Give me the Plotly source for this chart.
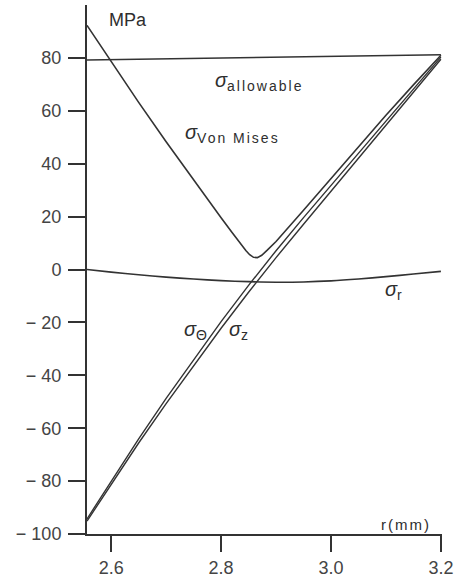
import plotly.graph_objects as go

# Radial position (mm) for the stress components
r_mm = [2.556, 2.6, 2.65, 2.7, 2.75, 2.8, 2.85, 2.9, 2.95, 3.0, 3.05, 3.1, 3.15, 3.2]
sigma_theta = [-94.3, -80.0, -64.0, -48.7, -34.0, -19.7, -6.0, 7.1, 19.6, 31.9, 44.0, 56.1, 68.2, 80.3]
sigma_z = [-95.1, -81.2, -65.6, -50.7, -36.3, -22.2, -8.6, 4.5, 17.1, 29.6, 42.0, 54.4, 66.9, 79.5]
sigma_r = [0.0, -1.0, -2.0, -2.9, -3.6, -4.2, -4.6, -4.8, -4.7, -4.3, -3.6, -2.7, -1.7, -0.7]

# Von Mises equivalent stress (denser sampling around the minimum)
r_vm = [2.556, 2.6, 2.65, 2.7, 2.75, 2.8, 2.82, 2.835, 2.845, 2.852, 2.859, 2.866, 2.874,
        2.884, 2.9, 2.95, 3.0, 3.05, 3.1, 3.15, 3.2]
sigma_vm = [92.3, 78.5, 63.2, 48.3, 33.8, 19.6, 14.0, 9.8, 7.2, 5.6, 4.6, 4.5, 5.4,
            7.3, 10.6, 22.4, 34.5, 46.5, 58.3, 69.8, 81.0]

# Allowable stress line
r_allow = [2.556, 3.2]
sigma_allow = [79.2, 81.2]

x_ticks = [2.6, 2.8, 3.0, 3.2]
x_tick_text = ["2.6", "2.8", "3.0", "3.2"]
y_ticks = [-100, -80, -60, -40, -20, 0, 20, 40, 60, 80]
y_tick_text = ["\u2212 100", "\u2212 80", "\u2212 60", "\u2212 40", "\u2212 20",
               "0", "20", "40", "60", "80"]

INK = "#333333"
TXT = "#2e2e2e"
FONT = "Liberation Sans, Arial, sans-serif"

fig = go.Figure()

fig.add_trace(go.Scatter(x=r_allow, y=sigma_allow, mode="lines",
                         line=dict(color=INK, width=1.6)))
fig.add_trace(go.Scatter(x=r_vm, y=sigma_vm, mode="lines",
                         line=dict(color=INK, width=1.6)))
fig.add_trace(go.Scatter(x=r_mm, y=sigma_r, mode="lines",
                         line=dict(color=INK, width=1.6, shape="spline", smoothing=0.8)))
fig.add_trace(go.Scatter(x=r_mm, y=sigma_theta, mode="lines",
                         line=dict(color=INK, width=1.4)))
fig.add_trace(go.Scatter(x=r_mm, y=sigma_z, mode="lines",
                         line=dict(color=INK, width=1.4)))


def label(x, y, text, size=21, xanchor="left", yanchor="middle"):
    fig.add_annotation(x=x, y=y, xref="x", yref="y", text=text, showarrow=False,
                       xanchor=xanchor, yanchor=yanchor,
                       font=dict(family=FONT, size=size, color=TXT))


sp = '<span style="letter-spacing:2px">{}</span>'
label(2.786, 71.0, "<i>σ</i><sub>" + sp.format("allowable") + "</sub>", size=20)
label(2.730, 51.5, "<i>σ</i><sub>" + sp.format("Von Mises") + "</sub>", size=20)
label(3.094, -7.8, "<i>σ</i><sub>r</sub>", size=20)
label(2.729, -22.9, "<i>σ</i><sub>Θ</sub>", size=20)
label(2.810, -22.9, "<i>σ</i><sub>z</sub>", size=20)
label(2.5925, 94.5, "MPa", size=18)
label(3.1865, -96.5, sp.format("r(mm)"), size=15, xanchor="right", yanchor="middle")

axis_common = dict(
    showline=True, linecolor=INK, linewidth=2,
    ticks="outside", tickcolor=INK, tickwidth=2,
    showgrid=False, zeroline=False, automargin=False,
    tickfont=dict(family=FONT, size=18, color="#444444"),
)

fig.update_xaxes(range=[2.556, 3.202], tickmode="array", tickvals=x_ticks,
                 ticktext=x_tick_text, ticklen=16, ticklabelstandoff=0, **axis_common)
fig.update_yaxes(range=[-100, 100], tickmode="array", tickvals=y_ticks,
                 ticktext=y_tick_text, ticklen=17, ticklabelstandoff=3, **axis_common)

fig.update_layout(
    width=465, height=579,
    margin=dict(l=87, r=23, t=5, b=45),
    paper_bgcolor="white", plot_bgcolor="white",
    showlegend=False,
)

fig.write_html("out.html")
